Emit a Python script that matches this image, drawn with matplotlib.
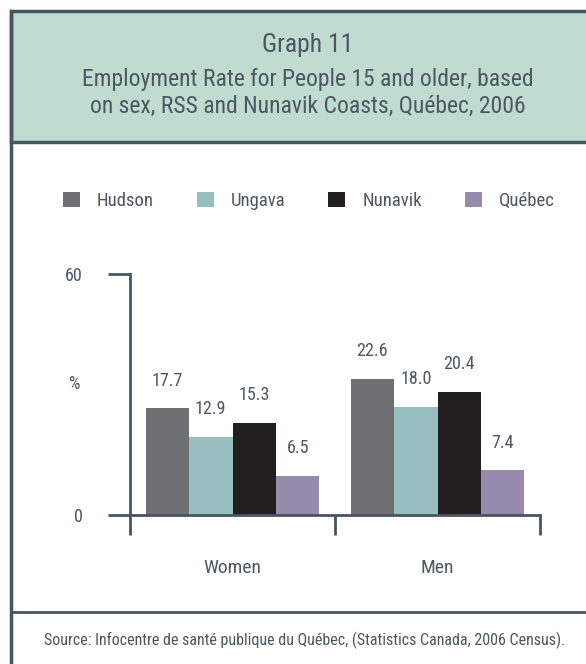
import numpy as np
import matplotlib.pyplot as plt
from matplotlib.patches import Rectangle
from matplotlib.lines import Line2D

# data
groups = ['Women', 'Men']
series = ['Hudson', 'Ungava', 'Nunavik', 'Québec']
hudson = [17.7, 22.6]
ungava = [12.9, 18.0]
nunavik = [15.3, 20.4]
quebec = [6.5, 7.4]
colors = ['#6f7072', '#98bfc0', '#231f20', '#968aad']
# the printed axis says 0 and 60, the bars are drawn on a 0-40 scale
ytick_pos = [0, 40]
ytick_labels = ['0', '60']

txt = '#4b5862'
line_col = '#46555f'
plt.rcParams['font.family'] = ['Roboto Condensed', 'Liberation Sans Narrow', 'Roboto', 'DejaVu Sans']

W, H = 586, 664
fig = plt.figure(figsize=(W / 100, H / 100), dpi=100)

def fx(x):
    return x / W

def fy(y):
    return 1 - y / H

# frame and header
fig.add_artist(Rectangle((fx(11), fy(142)), 1.0, (142 - 11) / H, transform=fig.transFigure,
                         facecolor='#c0dcd0', edgecolor=line_col, lw=2.5))
fig.add_artist(Line2D([fx(11), fx(11)], [fy(11), 0], transform=fig.transFigure, color=line_col, lw=2.5))
fig.add_artist(Line2D([fx(11), 1], [fy(612), fy(612)], transform=fig.transFigure, color=line_col, lw=2))

fig.text(fx(308), fy(45), 'Graph 11', ha='center', va='center', fontsize=18.5, color=txt)
fig.text(fx(308), fy(93), 'Employment Rate for People 15 and older, based\non sex, RSS and Nunavik Coasts, Québec, 2006',
         ha='center', va='center', fontsize=17, color=txt, linespacing=1.22)
fig.text(fx(305), fy(640), 'Source: Infocentre de santé publique du Québec, (Statistics Canada, 2006 Census).',
         ha='center', va='center', fontsize=11.5, color=txt)

# chart
ax = fig.add_axes([fx(130), fy(515), 410 / W, 241 / H])
x = np.arange(len(groups))
w = 0.212
values = [hudson, ungava, nunavik, quebec]
for i, (name, vals) in enumerate(zip(series, values)):
    pos = x + (i - 1.5) * w
    ax.bar(pos, vals, width=w, color=colors[i], label=name)
    for p, v in zip(pos, vals):
        ax.annotate(f'{v:.1f}', (p, v), xytext=(0, 20), textcoords='offset points',
                    ha='center', va='center', fontsize=13, color=txt)

ax.set_xlim(-0.5, 1.5)
ax.set_ylim(0, 40)
for s in ['top', 'right']:
    ax.spines[s].set_visible(False)
for s in ['left', 'bottom']:
    ax.spines[s].set_color(line_col)
    ax.spines[s].set_linewidth(2)

ax.set_xticks([-0.5, 0.5, 1.5])
ax.set_xticklabels([])
ax.tick_params(axis='x', which='major', direction='out', length=14.5, width=2, color=line_col)
ax.set_xticks(x, minor=True)
ax.set_xticklabels(groups, minor=True, fontsize=14, color=txt)
ax.tick_params(axis='x', which='minor', length=0, pad=32)

ax.set_yticks(ytick_pos)
ax.set_yticklabels(ytick_labels, fontsize=13, color=txt)
ax.tick_params(axis='y', direction='out', length=16, width=2, color=line_col, pad=18)
ax.set_ylabel('%', rotation=0, fontsize=13, color=txt)
ax.yaxis.set_label_coords(-0.134, 0.506)

fig.legend(loc='center left', bbox_to_anchor=(fx(63), fy(201)), ncol=4, frameon=False,
           fontsize=13.5, handlelength=0.9, handleheight=0.9, handletextpad=0.9,
           columnspacing=2.3, labelcolor=txt, borderaxespad=0, borderpad=0)

fig.savefig('out.png', dpi=100)
